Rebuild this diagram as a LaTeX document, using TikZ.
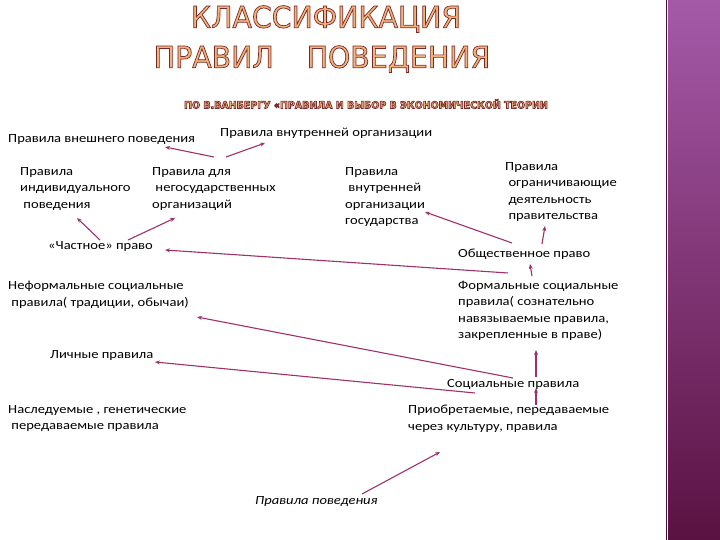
\documentclass[tikz,border=0pt]{standalone}
\usepackage{fontspec}
\setmainfont[FakeStretch=1.17]{Carlito}
\newfontfamily\titlefont[FakeStretch=0.95]{DejaVu Sans}
\usetikzlibrary{arrows.meta}
\definecolor{arr}{HTML}{A0306A}
\definecolor{ttl}{HTML}{F2B27A}
\definecolor{bartop}{HTML}{A55AA8}
\definecolor{barbot}{HTML}{5A1242}
\tikzset{
 txt/.style={anchor=west,align=left,font=\fontsize{12.5}{16.5}\selectfont,inner sep=0pt},
 con/.style={draw=arr,line width=1.1pt,-{Stealth[length=5pt,width=4pt]}},
 ttlnode/.style={inner sep=0pt,text=ttl},
}
\newcommand{\outl}[1]{\special{pdf:literal direct 2 Tr 0.7 w 0.48 0.16 0.16 RG}#1\special{pdf:literal direct 0 Tr}}
\begin{document}
\begin{tikzpicture}[x=1bp,y=-1bp]
\useasboundingbox (0,0) rectangle (720,540);
\shade[top color=bartop, bottom color=barbot] (668,0) rectangle (720,540);
\draw[barbot!80!black,line width=1pt] (666,0) -- (666,540);
\node[ttlnode,font=\titlefont\fontsize{30}{30}\selectfont] (t1) at (326,19) {\outl{КЛАССИФИКАЦИЯ}};
\node[ttlnode,font=\titlefont\fontsize{30}{30}\selectfont] (t2) at (322,59) {\outl{ПРАВИЛ\hspace{1.1em}ПОВЕДЕНИЯ}};
\node[ttlnode,font=\titlefont\bfseries\fontsize{10}{10}\selectfont] (t3) at (366,104) {\outl{ПО В.ВАНБЕРГУ «ПРАВИЛА И ВЫБОР В ЭКОНОМИЧЕСКОЙ ТЕОРИИ}};

\node[txt] (ext) at (8,140) {Правила внешнего поведения};
\node[txt] (int) at (220,133) {Правила внутренней организации};
\node[txt,anchor=north west] (ind) at (20,167) {Правила\\индивидуального\\\ поведения};
\node[txt,anchor=north west] (ngo) at (152,167) {Правила для\\\ негосударственных\\организаций};
\node[txt,anchor=north west] (gos) at (345,167) {Правила\\\ внутренней\\организации\\государства};
\node[txt,anchor=north west] (lim) at (505,162) {Правила\\\ ограничивающие\\\ деятельность\\\ правительства};
\node[txt] (priv) at (48,247) {«Частное» право};
\node[txt] (pub) at (458,254) {Общественное право};
\node[txt,anchor=north west] (inf) at (8,281) {Неформальные социальные\\\ правила( традиции, обычаи)};
\node[txt,anchor=north west] (form) at (458,281) {Формальные социальные\\правила( сознательно\\навязываемые правила,\\закрепленные в праве)};
\node[txt] (pers) at (50,356) {Личные правила};
\node[txt] (soc) at (447,384) {Социальные правила};
\node[txt,anchor=north west] (her) at (8,405) {Наследуемые , генетические\\\ передаваемые правила};
\node[txt,anchor=north west] (acq) at (408,405) {Приобретаемые, передаваемые\\через культуру, правила};
\node[txt,font=\itshape\fontsize{12.5}{16}\selectfont] (beh) at (255,502) {Правила поведения};

\coordinate (c1) at (214,157); \coordinate (c2) at (226,157);
\coordinate (c3) at (100,240); \coordinate (c4) at (128,240);
\coordinate (c5) at (512,243); \coordinate (c6) at (542,244);
\coordinate (c7) at (508,273); \coordinate (c8) at (532,276);
\coordinate (c9) at (513,378); \coordinate (c10) at (536,377);
\coordinate (c11) at (475,393); \coordinate (c12) at (536,405);
\coordinate (c13) at (362,494);

\draw[con] (c1) -- (165,147);
\draw[con] (c2) -- (265,143);
\draw[con] (c3) -- (77,218);
\draw[con] (c4) -- (175,218);
\draw[con] (c5) -- (425,212);
\draw[con] (c6) -- (545,226);
\draw[con] (c7) -- (165,250);
\draw[con] (c8) -- (530,264);
\draw[con] (c9) -- (197,317);
\draw[con] (c10) -- (536,350);
\draw[con] (c11) -- (155,362);
\draw[con] (c12) -- (536,388);
\draw[con] (c13) -- (440,452);
\end{tikzpicture}
\end{document}
